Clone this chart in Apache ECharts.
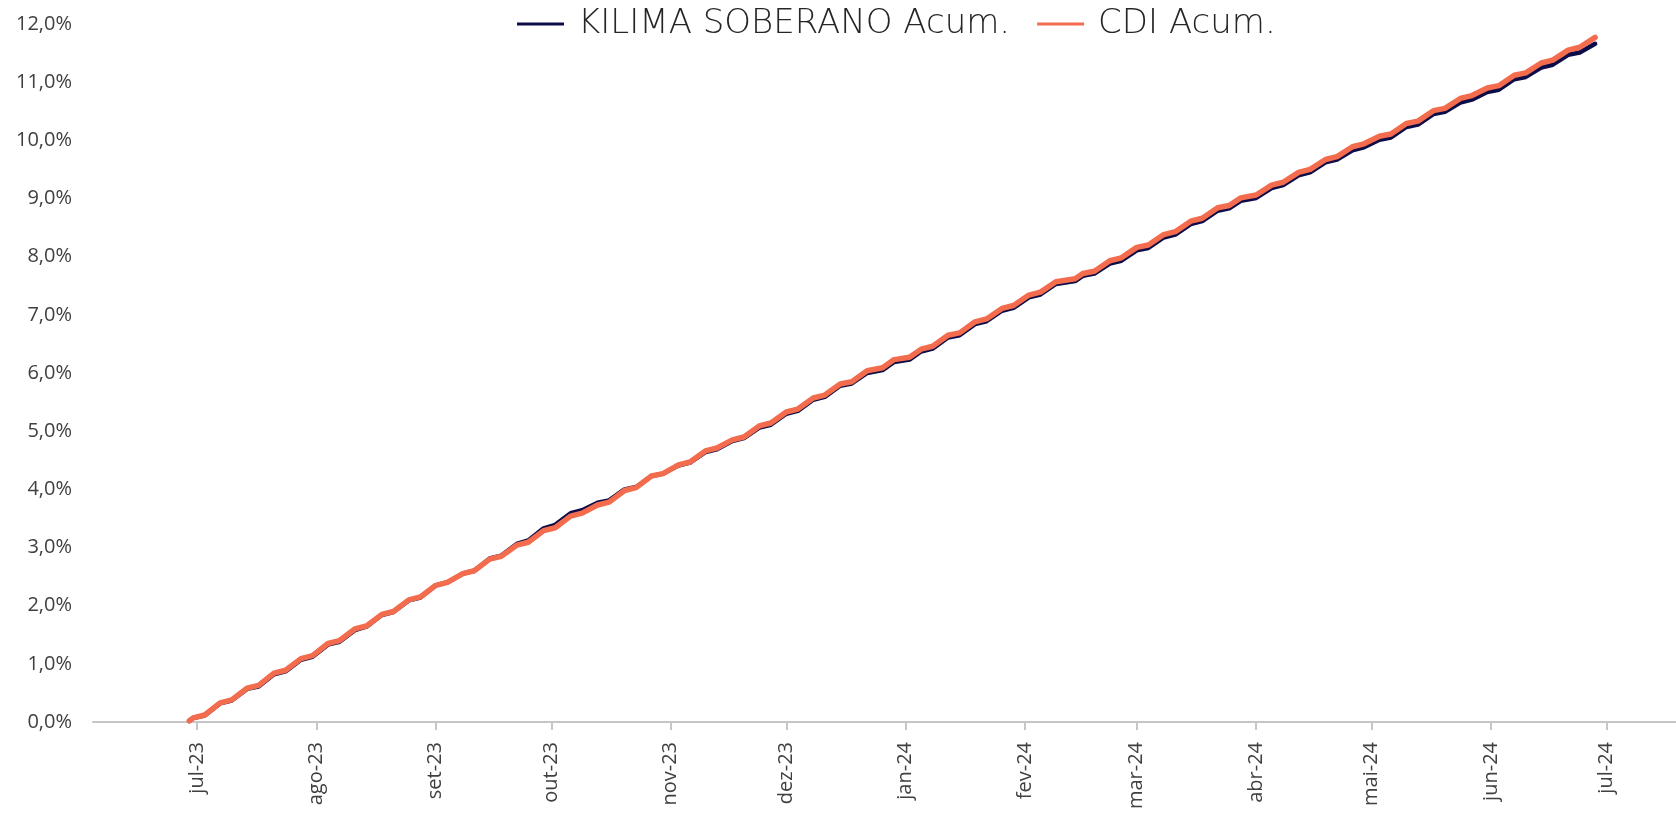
<!DOCTYPE html>
<html>
<head>
<meta charset="utf-8">
<script src="https://cdn.jsdelivr.net/npm/echarts@6/dist/echarts.min.js"></script>
<style>
  html, body { margin: 0; padding: 0; background: #fff; }
  #chart { width: 1676px; height: 816px; }
</style>
</head>
<body>
<div id="chart"></div>
<script type="text/javascript">
// datas (primeiro e ultimo dia util de cada semana)
var dates = [
  '2023-06-29','2023-06-30','2023-07-03','2023-07-07','2023-07-10','2023-07-14','2023-07-17','2023-07-21',
  '2023-07-24','2023-07-28','2023-07-31','2023-08-04','2023-08-07','2023-08-11','2023-08-14','2023-08-18',
  '2023-08-21','2023-08-25','2023-08-28','2023-09-01','2023-09-04','2023-09-08','2023-09-11','2023-09-15',
  '2023-09-18','2023-09-22','2023-09-25','2023-09-29','2023-10-02','2023-10-06','2023-10-09','2023-10-13',
  '2023-10-16','2023-10-20','2023-10-23','2023-10-27','2023-10-30','2023-11-03','2023-11-06','2023-11-10',
  '2023-11-13','2023-11-17','2023-11-20','2023-11-24','2023-11-27','2023-12-01','2023-12-04','2023-12-08',
  '2023-12-11','2023-12-15','2023-12-18','2023-12-22','2023-12-26','2023-12-29','2024-01-02','2024-01-05',
  '2024-01-08','2024-01-12','2024-01-15','2024-01-19','2024-01-22','2024-01-26','2024-01-29','2024-02-02',
  '2024-02-05','2024-02-09','2024-02-14','2024-02-16','2024-02-19','2024-02-23','2024-02-26','2024-03-01',
  '2024-03-04','2024-03-08','2024-03-11','2024-03-15','2024-03-18','2024-03-22','2024-03-25','2024-03-28',
  '2024-04-01','2024-04-05','2024-04-08','2024-04-12','2024-04-15','2024-04-19','2024-04-22','2024-04-26',
  '2024-04-29','2024-05-03','2024-05-06','2024-05-10','2024-05-13','2024-05-17','2024-05-20','2024-05-24',
  '2024-05-27','2024-05-31','2024-06-03','2024-06-07','2024-06-10','2024-06-14','2024-06-17','2024-06-21',
  '2024-06-24','2024-06-28'
];

// rentabilidade acumulada (%)
var kilima = [
  0.02, 0.07, 0.11, 0.32, 0.37, 0.57, 0.61, 0.82,
  0.87, 1.07, 1.12, 1.33, 1.38, 1.58, 1.64, 1.84,
  1.89, 2.09, 2.14, 2.35, 2.40, 2.55, 2.60, 2.81,
  2.86, 3.06, 3.12, 3.33, 3.39, 3.59, 3.64, 3.77,
  3.81, 4.00, 4.04, 4.23, 4.27, 4.41, 4.46, 4.64,
  4.69, 4.83, 4.88, 5.06, 5.11, 5.30, 5.35, 5.54,
  5.59, 5.78, 5.82, 6.00, 6.05, 6.19, 6.23, 6.37,
  6.42, 6.61, 6.65, 6.84, 6.89, 7.07, 7.12, 7.30,
  7.35, 7.53, 7.58, 7.67, 7.71, 7.88, 7.93, 8.11,
  8.15, 8.33, 8.38, 8.56, 8.61, 8.79, 8.83, 8.96,
  9.01, 9.18, 9.23, 9.40, 9.45, 9.62, 9.67, 9.83,
  9.88, 10.01, 10.05, 10.23, 10.27, 10.45, 10.49, 10.65,
  10.70, 10.83, 10.87, 11.05, 11.09, 11.25, 11.30, 11.47,
  11.51, 11.66
];

var cdi = [
  0.02, 0.07, 0.12, 0.33, 0.38, 0.58, 0.63, 0.84,
  0.89, 1.09, 1.14, 1.35, 1.40, 1.60, 1.65, 1.85,
  1.90, 2.10, 2.15, 2.35, 2.40, 2.55, 2.60, 2.80,
  2.85, 3.04, 3.09, 3.29, 3.34, 3.54, 3.59, 3.73,
  3.78, 3.98, 4.03, 4.23, 4.27, 4.42, 4.47, 4.66,
  4.71, 4.85, 4.90, 5.09, 5.14, 5.33, 5.38, 5.57,
  5.62, 5.81, 5.85, 6.04, 6.09, 6.23, 6.27, 6.41,
  6.46, 6.65, 6.69, 6.88, 6.93, 7.11, 7.16, 7.34,
  7.39, 7.57, 7.62, 7.71, 7.75, 7.93, 7.98, 8.16,
  8.20, 8.38, 8.43, 8.61, 8.66, 8.84, 8.88, 9.01,
  9.06, 9.23, 9.28, 9.45, 9.50, 9.67, 9.72, 9.89,
  9.94, 10.07, 10.11, 10.29, 10.33, 10.51, 10.55, 10.72,
  10.77, 10.90, 10.94, 11.12, 11.16, 11.33, 11.38, 11.55,
  11.60, 11.77
];

// ticks do eixo x
var monthTicks = [
  '2023-07-01','2023-08-01','2023-09-01','2023-10-01','2023-11-01','2023-12-01','2024-01-01',
  '2024-02-01','2024-03-01','2024-04-01','2024-05-01','2024-06-01','2024-07-01'
];
var monthNames = ['jan','fev','mar','abr','mai','jun','jul','ago','set','out','nov','dez'];

var FONT = "'Open Sans', 'DejaVu Sans', sans-serif";

function ts(s) {
  var p = s.split('-');
  return Date.UTC(+p[0], +p[1] - 1, +p[2]);
}
var tickTs = monthTicks.map(ts);

var myChart = echarts.init(document.getElementById('chart'));

var options = {
  animation: false,
  backgroundColor: '#ffffff',
  legend: {
    top: 2,
    left: 512,
    itemWidth: 47,
    itemHeight: 3,
    itemGap: 27,
    icon: 'rect',
    textStyle: {
      fontFamily: "'DejaVu Sans', sans-serif",
      fontWeight: 200,
      fontSize: 34,
      color: '#262626',
      padding: [0, 0, 0, 9]
    },
    data: ['KILIMA SOBERANO Acum.', 'CDI Acum.']
  },
  grid: {
    left: 93,
    right: 0,
    top: 24,
    bottom: 94
  },
  xAxis: {
    type: 'value',
    min: ts('2023-06-04'),
    max: ts('2024-07-19'),
    splitLine: { show: false },
    axisLine: { lineStyle: { color: '#c6c6c6', width: 2 } },
    axisTick: {
      customValues: tickTs,
      length: 8,
      lineStyle: { color: '#c6c6c6', width: 2 }
    },
    axisLabel: {
      customValues: tickTs,
      rotate: 90,
      margin: 20,
      fontFamily: FONT,
      fontSize: 20,
      color: '#404040',
      formatter: function (value) {
        var d = new Date(value);
        return monthNames[d.getUTCMonth()] + '-' + String(d.getUTCFullYear()).slice(2);
      }
    }
  },
  yAxis: {
    type: 'value',
    min: 0,
    max: 12,
    interval: 1,
    splitLine: { show: false },
    axisLine: { show: false },
    axisTick: { show: false },
    axisLabel: {
      margin: 21,
      fontFamily: FONT,
      fontSize: 20,
      color: '#404040',
      formatter: function (v) {
        return v.toFixed(1).replace('.', ',') + '%';
      }
    }
  },
  series: [
    {
      name: 'KILIMA SOBERANO Acum.',
      type: 'line',
      showSymbol: false,
      color: '#0c0c48',
      lineStyle: { width: 4.5, join: 'round', cap: 'round' },
      data: dates.map(function (d, i) { return [ts(d), kilima[i]]; })
    },
    {
      name: 'CDI Acum.',
      type: 'line',
      showSymbol: false,
      color: '#f26c4d',
      lineStyle: { width: 5.5, join: 'round', cap: 'round' },
      data: dates.map(function (d, i) { return [ts(d), cdi[i]]; })
    }
  ]
};

myChart.setOption(options);
</script>
</body>
</html>
